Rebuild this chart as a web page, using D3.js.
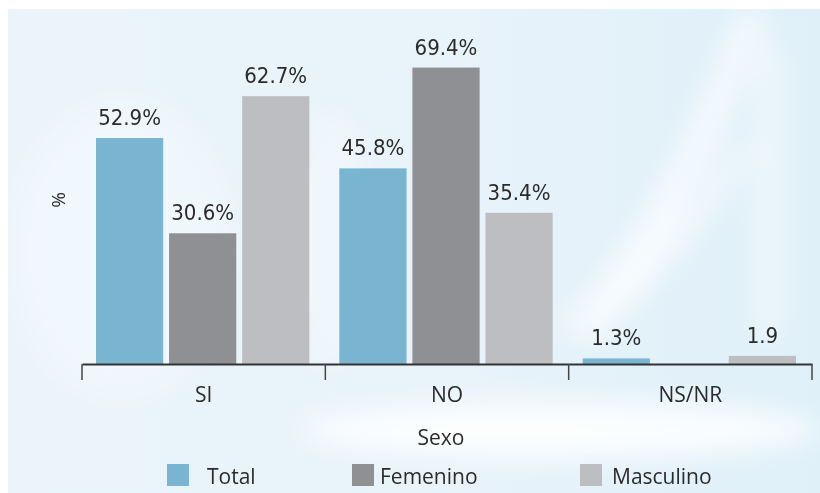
<!DOCTYPE html>
<html>
<head>
<meta charset="utf-8">
<script src="https://cdn.jsdelivr.net/npm/d3@7"></script>
<style>
  body { margin: 0; background: #fff; }
  svg { display: block; }
</style>
</head>
<body>
<div id="chart"></div>
<script>
// chart data
const categories = ["SI", "NO", "NS/NR"];
const seriesNames = ["Total", "Femenino", "Masculino"];
const totalValues = [52.9, 45.8, 1.3];
const femeninoValues = [30.6, 69.4, null];
const masculinoValues = [62.7, 35.4, 1.9];
const totalLabels = ["52.9%", "45.8%", "1.3%"];
const femeninoLabels = ["30.6%", "69.4%", ""];
const masculinoLabels = ["62.7%", "35.4%", "1.9"];

const width = 820, height = 493;
const colors = ["#79b5d0", "#8f9093", "#bdbec1"];
const textColor = "#2b2b2b";

let svg = d3.select("#chart")
    .append("svg")
    .attr("width", width)
    .attr("height", height);

// background panel with soft white swooshes
let defs = svg.append("defs");
let grad = defs.append("linearGradient").attr("id", "bg").attr("x1", 0).attr("x2", 1).attr("y1", 0).attr("y2", 0);
grad.append("stop").attr("offset", "0%").attr("stop-color", "#eaf4fa");
grad.append("stop").attr("offset", "55%").attr("stop-color", "#e8f3fa");
grad.append("stop").attr("offset", "100%").attr("stop-color", "#dff0f9");
defs.append("filter").attr("id", "blur")
    .attr("x", "-50%").attr("y", "-50%").attr("width", "200%").attr("height", "200%")
    .append("feGaussianBlur").attr("stdDeviation", 14);

svg.append("rect")
    .attr("x", 8).attr("y", 9)
    .attr("width", width - 8).attr("height", height - 9)
    .attr("fill", "url(#bg)");

let swoosh = svg.append("g").attr("filter", "url(#blur)").attr("fill", "#ffffff");
swoosh.append("ellipse").attr("cx", 560).attr("cy", 430).attr("rx", 260).attr("ry", 28).attr("opacity", 0.85);
swoosh.append("path").attr("d", "M560,330 C640,240 700,120 740,10 L765,10 C730,130 670,250 600,340 Z").attr("opacity", 0.7);
swoosh.append("path").attr("d", "M610,300 C660,250 700,200 745,140 L755,150 C715,215 670,265 625,310 Z").attr("opacity", 0.6);
swoosh.append("rect").attr("x", 758).attr("y", 40).attr("width", 22).attr("height", 300).attr("opacity", 0.55);
swoosh.append("ellipse").attr("cx", 120).attr("cy", 250).attr("rx", 110).attr("ry", 150).attr("opacity", 0.35);
swoosh.append("ellipse").attr("cx", 330).attr("cy", 240).attr("rx", 40).attr("ry", 130).attr("opacity", 0.35);

// scales
const plot = {left: 82, right: 812, base: 364};

let x0 = d3.scaleBand()
    .domain(categories)
    .range([plot.left, plot.right])
    .padding(0);

let x1 = d3.scaleBand()
    .domain(seriesNames)
    .range([14, x0.bandwidth() - 16])
    .paddingInner(0.08);

let y = d3.scaleLinear()
    .domain([0, 70])
    .range([plot.base, 65]);

const seriesValues = [totalValues, femeninoValues, masculinoValues];
const seriesLabels = [totalLabels, femeninoLabels, masculinoLabels];

let barData = [];
categories.forEach(function(c, i) {
    seriesNames.forEach(function(s, j) {
        barData.push({cat: c, series: s, value: seriesValues[j][i], label: seriesLabels[j][i], color: colors[j]});
    });
});
barData = barData.filter(function(d) { return d.value != null; });

// bars
svg.append("g").selectAll("rect")
    .data(barData)
    .enter()
    .append("rect")
    .attr("x", function(d) { return x0(d.cat) + x1(d.series); })
    .attr("y", function(d) { return y(d.value); })
    .attr("width", x1.bandwidth())
    .attr("height", function(d) { return y(0) - y(d.value); })
    .attr("fill", function(d) { return d.color; });

// value labels
svg.append("g").selectAll("text")
    .data(barData)
    .enter()
    .append("text")
    .attr("x", function(d) { return x0(d.cat) + x1(d.series) + x1.bandwidth() / 2; })
    .attr("y", function(d) { return y(d.value) - 13; })
    .attr("text-anchor", "middle")
    .style("font", "22px 'Liberation Sans Narrow', 'DejaVu Sans Condensed', sans-serif")
    .style("fill", textColor)
    .text(function(d) { return d.label; });

// x axis
let xAxis = svg.append("g")
    .attr("transform", `translate(0, ${plot.base})`)
    .call(d3.axisBottom(x0).tickSize(0).tickPadding(23));

xAxis.select(".domain")
    .attr("stroke", "#333")
    .attr("stroke-width", 2);

xAxis.selectAll("text")
    .style("font", "21px 'Open Sans', sans-serif")
    .style("fill", textColor);

// group separator ticks
let edges = categories.map(function(c) { return x0(c); }).concat([x0.range()[1]]);
xAxis.selectAll(".sep")
    .data(edges)
    .enter()
    .append("line")
    .attr("class", "sep")
    .attr("x1", function(d) { return d; })
    .attr("x2", function(d) { return d; })
    .attr("y1", 0)
    .attr("y2", 16)
    .attr("stroke", "#444")
    .attr("stroke-width", 1.5);

// axis titles
svg.append("text")
    .attr("x", x0.range()[0] + (x0.range()[1] - x0.range()[0]) / 2 - 6)
    .attr("y", 445)
    .attr("text-anchor", "middle")
    .style("font", "21px 'Open Sans', sans-serif")
    .style("fill", textColor)
    .text("Sexo");

svg.append("text")
    .attr("transform", "translate(65, 200) rotate(-90)")
    .attr("text-anchor", "middle")
    .style("font", "19px 'Open Sans', sans-serif")
    .style("fill", textColor)
    .text("%");

// legend
const legendX = [167, 352, 580];
const legendGap = [18, 6, 10];
let legend = svg.append("g").selectAll("g")
    .data(seriesNames)
    .enter()
    .append("g")
    .attr("transform", function(d, i) { return `translate(${legendX[i]}, 464)`; });

legend.append("rect")
    .attr("width", 22)
    .attr("height", 22)
    .attr("fill", function(d, i) { return colors[i]; });

legend.append("text")
    .attr("x", function(d, i) { return 22 + legendGap[i]; })
    .attr("y", 20)
    .style("font", "21px 'Open Sans', sans-serif")
    .style("fill", textColor)
    .text(function(d) { return d; });
</script>
</body>
</html>
